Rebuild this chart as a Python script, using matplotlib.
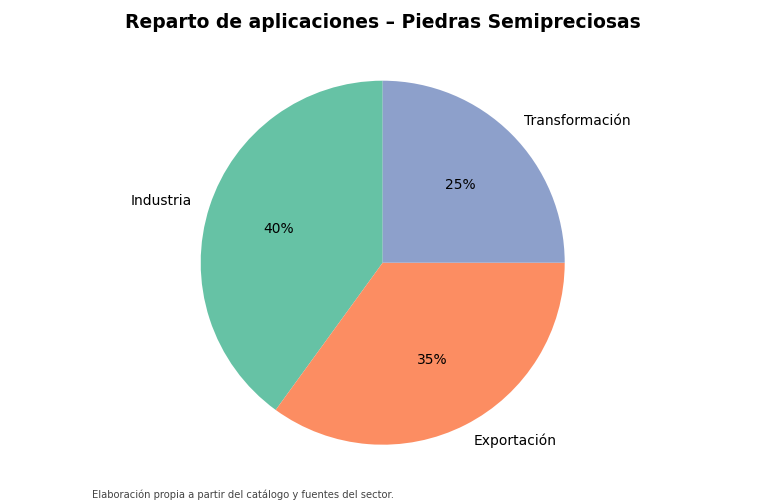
import matplotlib
matplotlib.use("Agg")
import matplotlib.pyplot as plt

categories = ["Industria", "Exportación", "Transformación"]
values = [40, 35, 25]
colors = ["#66c2a5", "#fc8d62", "#8da0cb"]

W, H = 765, 503
fig = plt.figure(figsize=(W / 100, H / 100), dpi=100)
r = 182
cx, cy = 382.7, 503 - 262.7
half = r * 1.25
ax = fig.add_axes([(cx - half) / W, (cy - half) / H, 2 * half / W, 2 * half / H])
ax.pie(values, labels=categories, colors=colors, autopct="%1.0f%%", startangle=90,
       counterclock=True, textprops={"fontsize": 10})
ax.set_xlim(-1.25, 1.25)
ax.set_ylim(-1.25, 1.25)
ax.set_aspect("equal")
fig.text(382.5 / W, 1 - 22 / H, "Reparto de aplicaciones – Piedras Semipreciosas",
         ha="center", va="center", fontsize=13.5, fontweight="bold")
fig.text(92 / W, 1 - 495 / H, "Elaboración propia a partir del catálogo y fuentes del sector.",
         ha="left", va="center", fontsize=7.2, color="#444444")
fig.savefig("out.png", dpi=100)
